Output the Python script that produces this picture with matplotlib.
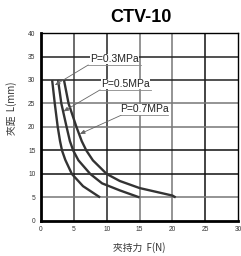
import matplotlib.pyplot as plt

plt.rcParams['font.family'] = ['Liberation Sans', 'DejaVu Sans']

# clamp distance L (mm) vs clamping force F (N)
L_03 = [30, 25, 20, 17, 15, 13, 10, 7.4, 5]
F_03 = [1.7, 2.1, 2.55, 2.9, 3.2, 3.7, 4.7, 6.4, 9.0]
L_05 = [30, 25, 20, 17, 15, 12.9, 10, 8.0, 6.5, 5]
F_05 = [2.6, 3.1, 3.9, 4.4, 4.9, 5.7, 7.5, 9.3, 12.0, 15.0]
L_07 = [30, 25, 20, 17, 15, 12.9, 10, 8.5, 7.0, 5.4, 5.0]
F_07 = [3.5, 4.2, 5.4, 6.2, 6.9, 7.9, 10.0, 12.0, 15.0, 20.0, 20.5]

labels = ['P=0.3MPa', 'P=0.5MPa', 'P=0.7MPa']
arrow_tip = [(2.1, 28.9), (3.4, 23.3), (5.9, 18.5)]
label_at = [(7.2, 33.2), (9.0, 27.9), (12.2, 22.5)]
label_end = [15.2, 16.8, 19.4]

fig = plt.figure(figsize=(2.41, 2.56), dpi=100)
ax = fig.add_axes([0.170, 0.137, 0.818, 0.734])
ax.set_xlim(0, 30)
ax.set_ylim(0, 40)

# grid, mixture of gray and black lines like the scan
vcol = {5: '#444444', 10: '#222222', 15: '#777777', 20: '#777777', 25: '#111111'}
hcol = {5: '#777777', 10: '#111111', 15: '#111111', 20: '#777777', 25: '#777777',
        30: '#222222', 35: '#222222'}
for x, c in vcol.items():
    ax.axvline(x, color=c, lw=1.1, zorder=1)
for y, c in hcol.items():
    ax.axhline(y, color=c, lw=1.1, zorder=1)

for F, L in [(F_03, L_03), (F_05, L_05), (F_07, L_07)]:
    ax.plot(F, L, color='#333333', lw=1.7, zorder=3, solid_capstyle='butt',
            solid_joinstyle='round')

for lab, tip, at, end in zip(labels, arrow_tip, label_at, label_end):
    ax.plot([at[0], end], [at[1], at[1]], color='#888888', lw=0.6, zorder=2)
    ax.annotate('', xy=tip, xytext=at,
                arrowprops=dict(arrowstyle='-|>,head_length=0.5,head_width=0.2',
                                color='#666666', lw=0.6,
                                mutation_scale=6, shrinkA=0, shrinkB=0), zorder=4)
    ax.text((at[0] + end) / 2, at[1] + 0.2, lab, ha='center', va='bottom',
            fontsize=7.5, color='#222222', zorder=5,
            bbox=dict(facecolor='white', edgecolor='none', pad=0.2))

ax.set_xticks(range(0, 31, 5))
ax.set_yticks(range(0, 41, 5))
ax.tick_params(length=0, labelsize=4.8, labelcolor='#333333', pad=4)
for s in ['left', 'bottom']:
    ax.spines[s].set_linewidth(2.0)
for s in ['top', 'right']:
    ax.spines[s].set_linewidth(1.0)

ax.set_xlabel('夾持力  F(N)', family=['Noto Sans CJK TC'], fontsize=7, color='#333333', labelpad=6)
ax.set_ylabel('夾距  L(mm)', family=['Noto Sans CJK TC'], fontsize=7, color='#333333', labelpad=6)
ax.yaxis.set_label_coords(-0.12, 0.6)
fig.text(0.585, 0.93, 'CTV-10', ha='center', va='center', fontsize=13, fontweight='bold')

fig.savefig('out.png', dpi=100)
